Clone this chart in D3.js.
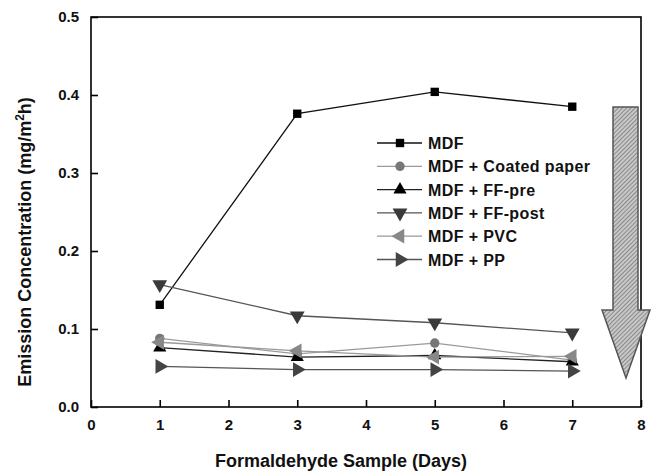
<!DOCTYPE html>
<html>
<head>
    <meta charset="utf-8">
    <style>
        body { margin: 0; background: #fff; }
        svg { font-family: Arial, 'Liberation Sans', sans-serif; font-weight: bold; }
    </style>
</head>
<body>
<svg width="662" height="475"></svg>
<script src="https://d3js.org/d3.v7.min.js"></script>
<script>
// data
let days = [1, 3, 5, 7]
let seriesNames = ["MDF", "MDF + Coated paper", "MDF + FF-pre", "MDF + FF-post", "MDF + PVC", "MDF + PP"]
let mdf = [0.131, 0.376, 0.404, 0.385]
let coated = [0.088, 0.068, 0.082, 0.060]
let ffPre = [0.076, 0.064, 0.066, 0.058]
let ffPost = [0.157, 0.117, 0.108, 0.095]
let pvc = [0.083, 0.072, 0.064, 0.065]
let pp = [0.052, 0.048, 0.048, 0.046]
let xTicks = [0, 1, 2, 3, 4, 5, 6, 7, 8]
let yTicks = [0.0, 0.1, 0.2, 0.3, 0.4, 0.5]

let svg = d3.select("svg")
let margin = { top: 17, right: 21, bottom: 68, left: 91 }
let width = 662 - margin.left - margin.right
let height = 475 - margin.top - margin.bottom

let x = d3.scaleLinear().domain([0, 8]).range([margin.left, margin.left + width])
let y = d3.scaleLinear().domain([0, 0.5]).range([margin.top + height, margin.top])

// styles per series
let styles = [
    { values: mdf, line: "#111", fill: "#000", sym: d3.symbolSquare, rot: 0, size: 70 },
    { values: coated, line: "#9a9a9a", fill: "#777", sym: d3.symbolCircle, rot: 0, size: 70 },
    { values: ffPre, line: "#222", fill: "#000", sym: d3.symbolTriangle, rot: 0, size: 75 },
    { values: ffPost, line: "#555", fill: "#3a3a3a", sym: d3.symbolTriangle, rot: 180, size: 95 },
    { values: pvc, line: "#999", fill: "#888", sym: d3.symbolTriangle, rot: -90, size: 95 },
    { values: pp, line: "#555", fill: "#444", sym: d3.symbolTriangle, rot: 90, size: 95 }
]

let font = "Arial, 'Liberation Sans', sans-serif"

// axes
svg.append("g")
    .attr("transform", `translate(0,${margin.top + height})`)
    .call(d3.axisBottom(x).tickValues(xTicks).tickSize(-7).tickPadding(12).tickFormat(d3.format("d")))
    .call(g => g.select(".domain").remove())
    .call(g => g.selectAll("line").attr("stroke", "#000").attr("stroke-width", 1.6))
    .call(g => g.selectAll("text").attr("font-size", 15).attr("font-weight", "bold").attr("fill", "#111").attr("font-family", font))

svg.append("g")
    .attr("transform", `translate(${margin.left},0)`)
    .call(d3.axisLeft(y).tickValues(yTicks).tickSize(-7).tickPadding(12).tickFormat(d3.format(".1f")))
    .call(g => g.select(".domain").remove())
    .call(g => g.selectAll("line").attr("stroke", "#000").attr("stroke-width", 1.6))
    .call(g => g.selectAll("text").attr("font-size", 15).attr("font-weight", "bold").attr("fill", "#111").attr("font-family", font))

// frame
svg.append("rect")
    .attr("x", margin.left).attr("y", margin.top)
    .attr("width", width).attr("height", height)
    .attr("fill", "none").attr("stroke", "#000").attr("stroke-width", 1.6)

// arrow with hatching
let defs = svg.append("defs")
let pat = defs.append("pattern")
    .attr("id", "hatch").attr("width", 3).attr("height", 3)
    .attr("patternUnits", "userSpaceOnUse").attr("patternTransform", "rotate(45)")
pat.append("rect").attr("width", 3).attr("height", 3).attr("fill", "#c8c8c8")
pat.append("line").attr("x1", 0).attr("y1", 0).attr("x2", 0).attr("y2", 3).attr("stroke", "#7a7a7a").attr("stroke-width", 1.6)

svg.append("path")
    .attr("d", "M613,107 L638,107 L638,310 L650,310 L626,378 L602,310 L613,310 Z")
    .attr("fill", "url(#hatch)").attr("stroke", "#555").attr("stroke-width", 1.5)

// lines and markers
let line = d3.line().x((d, i) => x(days[i])).y(d => y(d))

styles.forEach((s, k) => {
    svg.append("path")
        .datum(s.values)
        .attr("d", line)
        .attr("fill", "none")
        .attr("stroke", s.line)
        .attr("stroke-width", 1.3)
    svg.append("g")
        .selectAll("path")
        .data(s.values)
        .join("path")
        .attr("d", d3.symbol().type(s.sym).size(s.size))
        .attr("transform", (d, i) => `translate(${x(days[i])},${y(d)}) rotate(${s.rot})`)
        .attr("fill", s.fill)
})

// legend
let legend = svg.append("g").attr("transform", "translate(377,143)")
styles.forEach((s, k) => {
    let row = legend.append("g").attr("transform", `translate(0,${k * 23.3})`)
    row.append("line").attr("x1", 0).attr("x2", 45).attr("stroke", s.line).attr("stroke-width", 1.3)
    row.append("path")
        .attr("d", d3.symbol().type(s.sym).size(s.size))
        .attr("transform", `translate(23,0) rotate(${s.rot})`)
        .attr("fill", s.fill)
    row.append("text")
        .attr("x", 51).attr("y", 6)
        .attr("font-size", 16).attr("letter-spacing", 0.4).attr("fill", "#111")
        .text(seriesNames[k])
})

// axis titles
svg.append("text")
    .attr("x", 341).attr("y", 467)
    .attr("text-anchor", "middle").attr("font-size", 18).attr("fill", "#111")
    .text("Formaldehyde Sample (Days)")

let yt = svg.append("text")
    .attr("transform", `translate(31,242) rotate(-90)`)
    .attr("text-anchor", "middle").attr("font-size", 18).attr("fill", "#111")
yt.append("tspan").text("Emission Concentration (mg/m")
yt.append("tspan").attr("font-size", 12).attr("dy", -7).text("2")
yt.append("tspan").attr("dy", 7).text("h)")
</script>
</body>
</html>
